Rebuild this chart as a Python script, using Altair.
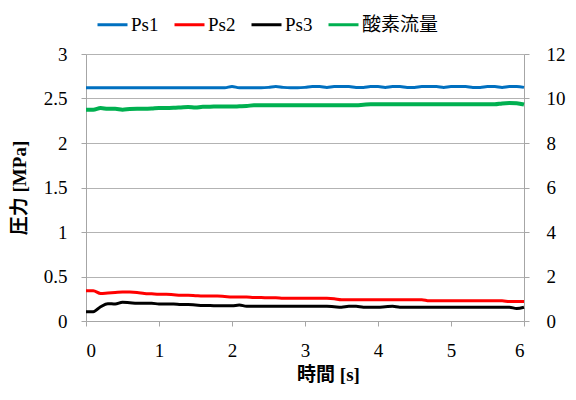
import altair as alt
import pandas as pd

times = [0.0, 0.1, 0.2, 0.3, 0.4, 0.5, 0.6, 0.7, 0.8, 0.9,
         1.0, 1.1, 1.2, 1.3, 1.4, 1.5, 1.6, 1.7, 1.8, 1.9,
         2.0, 2.1, 2.2, 2.3, 2.4, 2.5, 2.6, 2.7, 2.8, 2.9,
         3.0, 3.1, 3.2, 3.3, 3.4, 3.5, 3.6, 3.7, 3.8, 3.9,
         4.0, 4.1, 4.2, 4.3, 4.4, 4.5, 4.6, 4.7, 4.8, 4.9,
         5.0, 5.1, 5.2, 5.3, 5.4, 5.5, 5.6, 5.7, 5.8, 5.9, 6.0]

ps1 = [2.62, 2.62, 2.62, 2.62, 2.62, 2.62, 2.62, 2.62, 2.62, 2.62,
       2.62, 2.62, 2.62, 2.62, 2.62, 2.62, 2.62, 2.62, 2.62, 2.62,
       2.635, 2.62, 2.62, 2.62, 2.62, 2.625, 2.635, 2.625, 2.62, 2.62,
       2.625, 2.635, 2.635, 2.625, 2.635, 2.635, 2.635, 2.625, 2.625, 2.635,
       2.635, 2.625, 2.635, 2.635, 2.625, 2.625, 2.635, 2.635, 2.635, 2.625,
       2.635, 2.635, 2.635, 2.625, 2.625, 2.635, 2.635, 2.625, 2.635, 2.635, 2.625]

ps2 = [0.34, 0.34, 0.31, 0.315, 0.32, 0.325, 0.325, 0.32, 0.31, 0.305,
       0.30, 0.30, 0.295, 0.29, 0.29, 0.285, 0.28, 0.28, 0.28, 0.275,
       0.27, 0.27, 0.27, 0.265, 0.265, 0.26, 0.26, 0.255, 0.255, 0.255,
       0.255, 0.255, 0.255, 0.255, 0.25, 0.24, 0.24, 0.24, 0.24, 0.24,
       0.24, 0.24, 0.24, 0.24, 0.24, 0.24, 0.24, 0.228, 0.228, 0.228,
       0.228, 0.228, 0.228, 0.228, 0.228, 0.228, 0.228, 0.228, 0.218, 0.218, 0.218]

ps3 = [0.105, 0.105, 0.16, 0.195, 0.19, 0.21, 0.205, 0.20, 0.20, 0.20,
       0.19, 0.19, 0.19, 0.185, 0.185, 0.18, 0.175, 0.175, 0.17, 0.17,
       0.17, 0.18, 0.165, 0.165, 0.165, 0.165, 0.165, 0.165, 0.165, 0.165,
       0.165, 0.165, 0.165, 0.165, 0.16, 0.155, 0.165, 0.165, 0.155, 0.155,
       0.155, 0.16, 0.165, 0.155, 0.155, 0.155, 0.155, 0.155, 0.155, 0.155,
       0.155, 0.155, 0.155, 0.155, 0.155, 0.155, 0.155, 0.155, 0.155, 0.14, 0.155]

oxygen = [9.50, 9.50, 9.57, 9.54, 9.54, 9.50, 9.53, 9.54, 9.54, 9.55,
          9.57, 9.57, 9.58, 9.60, 9.62, 9.59, 9.63, 9.63, 9.64, 9.64,
          9.64, 9.65, 9.66, 9.70, 9.70, 9.70, 9.70, 9.70, 9.70, 9.70,
          9.70, 9.70, 9.70, 9.70, 9.70, 9.70, 9.70, 9.70, 9.72, 9.74,
          9.74, 9.74, 9.74, 9.74, 9.74, 9.74, 9.74, 9.74, 9.74, 9.74,
          9.74, 9.74, 9.74, 9.74, 9.74, 9.74, 9.74, 9.78, 9.80, 9.79, 9.73]

series_names = ["Ps1", "Ps2", "Ps3", "酸素流量"]
series_colors = ["#0070C0", "#FF0000", "#000000", "#00B050"]

x_ticks = [0, 1, 2, 3, 4, 5, 6]
left_ticks = [0, 0.5, 1, 1.5, 2, 2.5, 3]
right_ticks = [0, 2, 4, 6, 8, 10, 12]

rows = []
for name, vals in zip(series_names, [ps1, ps2, ps3, oxygen]):
    for t, v in zip(times, vals):
        rows.append({"t": t, "value": v, "series": name})
df = pd.DataFrame(rows)

FONT = "Times New Roman, Liberation Serif, Noto Sans CJK JP, serif"
AX = dict(
    labelFont=FONT,
    labelFontSize=19,
    labelColor="#000000",
    domainColor="#a6a6a6",
    tickColor="#a6a6a6",
    tickSize=5,
)

color = alt.Color(
    "series:N",
    scale=alt.Scale(domain=series_names, range=series_colors),
    legend=alt.Legend(
        title=None,
        orient="none",
        legendX=10,
        legendY=-46,
        direction="horizontal",
        symbolType="stroke",
        symbolSize=900,
        symbolStrokeWidth=3,
        labelFont=FONT,
        labelFontSize=19,
        labelColor="#000000",
        labelOffset=2,
        columnPadding=9,
    ),
)

x = alt.X(
    "t:Q",
    scale=alt.Scale(domain=[0, 6], nice=False),
    axis=alt.Axis(
        values=x_ticks,
        format="~g",
        title="時間 [s]",
        grid=False,
        labelPadding=15,
        titlePadding=5,
        titleX=242,
        **AX,
    ),
)

pressure = (
    alt.Chart(df)
    .transform_filter(alt.FieldOneOfPredicate(field="series", oneOf=["Ps1", "Ps2", "Ps3"]))
    .mark_line(strokeWidth=3, interpolate="monotone")
    .encode(
        x=x,
        y=alt.Y(
            "value:Q",
            scale=alt.Scale(domain=[0, 3], nice=False),
            axis=alt.Axis(
                values=left_ticks,
                format=".1~f",
                title="圧力 [MPa]",
                orient="left",
                grid=True,
                gridColor="#b3b3b3",
                labelPadding=14,
                titlePadding=14,
                **AX,
            ),
        ),
        color=color,
        detail="series:N",
    )
)

oxy = (
    alt.Chart(df)
    .transform_filter(alt.FieldEqualPredicate(field="series", equal="酸素流量"))
    .mark_line(strokeWidth=4, interpolate="monotone")
    .encode(
        x=x,
        y=alt.Y(
            "value:Q",
            scale=alt.Scale(domain=[0, 12], nice=False),
            axis=alt.Axis(
                values=right_ticks,
                format="~g",
                title=None,
                orient="right",
                grid=False,
                labelPadding=17,
                **AX,
            ),
        ),
        color=color,
    )
)

chart = (
    alt.layer(pressure, oxy)
    .resolve_scale(y="independent", color="shared")
    .properties(
        width=438,
        height=267,
        autosize=alt.AutoSizeParams(type="none"),
        padding={"left": 78, "top": 46, "right": 44, "bottom": 63},
        background="#ffffff",
    )
    .configure_view(stroke=None)
    .configure_axis(
        gridWidth=1,
        labelFont=FONT,
        titleFont=FONT,
        titleFontSize=19,
        titleFontWeight="bold",
        titleColor="#000000",
    )
)

chart.save("out.html", embed_options={"renderer": "svg", "actions": False})
